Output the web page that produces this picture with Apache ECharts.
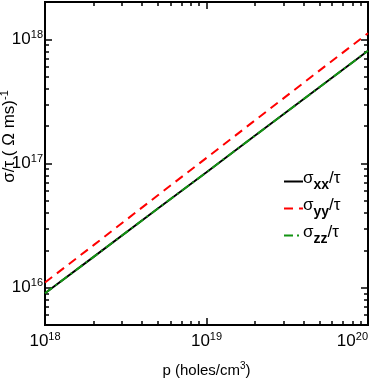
<!DOCTYPE html>
<html>
<head>
<meta charset="utf-8">
<script src="https://cdn.jsdelivr.net/npm/echarts@6/dist/echarts.min.js"></script>
<style>
  html, body { margin: 0; padding: 0; background: #fff; }
  #main { width: 382px; height: 382px; }
</style>
</head>
<body>
<div id="main"></div>
<script>
// hole density p (holes/cm^3)
var holes = [1e18, 2e18, 5e18, 1e19, 2e19, 5e19, 1e20];
// conductivity over relaxation time, (Ohm m s)^-1
var sigmaXX = [9.0e15, 1.77e16, 4.34e16, 8.5e16, 1.68e17, 4.11e17, 8.1e17];
var sigmaYY = [1.1e16, 2.2e16, 5.55e16, 1.11e17, 2.23e17, 5.6e17, 1.12e18];
var sigmaZZ = [9.0e15, 1.77e16, 4.34e16, 8.5e16, 1.68e17, 4.11e17, 8.1e17];
var seriesNames = ['xx', 'yy', 'zz'];

// axis ranges and decade tick exponents
var xRange = [1e18, 1e20];
var yRange = [5e15, 2e18];
var xDecades = [18, 19, 20];
var yDecades = [16, 17, 18];
var minorMult = [1, 2, 3, 4, 5, 6, 7, 8, 9];

var FONT = '"Liberation Sans", Arial, sans-serif';
var lg = Math.log10;

// every log tick (decades included) inside the range
function logTicks(range) {
  var out = [];
  for (var d = Math.floor(lg(range[0])); d <= Math.ceil(lg(range[1])); d++) {
    minorMult.forEach(function (m) {
      var v = lg(m) + d;
      if (v >= lg(range[0]) - 1e-9 && v <= lg(range[1]) + 1e-9) out.push(v);
    });
  }
  return out;
}

function toPoints(xs, ys) {
  return xs.map(function (x, i) { return [lg(x), lg(ys[i])]; });
}

var powRich = {
  b: { fontFamily: FONT, fontSize: 17, color: '#000' },
  e: { fontFamily: FONT, fontSize: 11, color: '#000', padding: [0, 0, 9, 0] }
};
function powLabel(v) {
  return '{b|10}{e|' + Math.round(v) + '}';
}

// grid 0: labels + all log ticks, grid 1 (same rect): longer decade ticks
function makeAxis(dim, range, decades, opts) {
  var base = {
    type: 'value',
    gridIndex: opts.major ? 1 : 0,
    min: lg(range[0]),
    max: lg(range[1]),
    position: opts.position,
    splitLine: { show: false },
    axisLine: { show: true, onZero: false, lineStyle: { color: '#000', width: 2 } },
    axisTick: {
      show: true, inside: true, length: opts.major ? 7 : 4,
      lineStyle: { color: '#000', width: 1.5 },
      customValues: opts.major ? decades : logTicks(range)
    },
    axisLabel: { show: false }
  };
  if (opts.labels) {
    base.axisLabel = {
      show: true,
      customValues: decades,
      formatter: powLabel,
      rich: powRich,
      alignMaxLabel: dim === 'x' ? 'right' : null,
      margin: dim === 'x' ? 6 : 2
    };
  }
  return base;
}

var xAxes = [
  makeAxis('x', xRange, xDecades, { position: 'bottom', labels: true }),
  makeAxis('x', xRange, xDecades, { position: 'top' }),
  makeAxis('x', xRange, xDecades, { position: 'bottom', major: true }),
  makeAxis('x', xRange, xDecades, { position: 'top', major: true })
];
xAxes[0].name = 'p (holes/cm{e|3})';
xAxes[0].nameLocation = 'middle';
xAxes[0].nameGap = 36;
xAxes[0].nameMoveOverlap = false;
xAxes[0].nameTextStyle = {
  fontFamily: FONT, fontSize: 15, color: '#000',
  rich: { e: { fontFamily: FONT, fontSize: 10, color: '#000', padding: [0, 0, 9, 0] } }
};

var yAxes = [
  makeAxis('y', yRange, yDecades, { position: 'left', labels: true }),
  makeAxis('y', yRange, yDecades, { position: 'right' }),
  makeAxis('y', yRange, yDecades, { position: 'left', major: true }),
  makeAxis('y', yRange, yDecades, { position: 'right', major: true })
];
yAxes[0].name = 'σ/τ ( Ω ms){e|-1}';
yAxes[0].nameLocation = 'middle';
yAxes[0].nameGap = 25;
yAxes[0].nameMoveOverlap = false;
yAxes[0].nameTextStyle = {
  fontFamily: FONT, fontSize: 17, color: '#000',
  padding: [0, 0, 0, 54],
  rich: { e: { fontFamily: FONT, fontSize: 11, color: '#000', padding: [0, 0, 10, 0] } }
};

var plotRect = { left: 45, right: 14, top: 2, bottom: 57, containLabel: false, outerBoundsMode: 'none' };

var option = {
  animation: false,
  backgroundColor: '#fff',
  grid: [Object.assign({}, plotRect), Object.assign({}, plotRect)],
  xAxis: xAxes,
  yAxis: yAxes,
  legend: {
    orient: 'vertical',
    left: 278,
    top: 165,
    itemWidth: 19,
    itemHeight: 10,
    itemGap: 5,
    data: seriesNames,
    itemStyle: { opacity: 0 },
    formatter: function (name) {
      return '{s|σ}{sub|' + name + '}{s|/τ}';
    },
    textStyle: {
      color: '#000',
      padding: [0, 0, 0, -5],
      rich: {
        s: { fontFamily: FONT, fontSize: 17, color: '#000', padding: [0, 0, 6, 0] },
        sub: { fontFamily: FONT, fontSize: 14, fontWeight: 'bold', color: '#000', padding: [7, 0, 0, 0] }
      }
    }
  },
  series: [
    {
      name: 'xx', type: 'line', symbol: 'none', z: 2,
      data: toPoints(holes, sigmaXX),
      lineStyle: { color: '#000', width: 2 }, itemStyle: { color: '#000' }
    },
    {
      name: 'yy', type: 'line', symbol: 'none', z: 3,
      data: toPoints(holes, sigmaYY),
      lineStyle: { color: '#ff0000', width: 2, type: [9, 6] }, itemStyle: { color: '#ff0000' }
    },
    {
      // same scales, drawn in the overlaid grid
      name: 'zz', type: 'line', symbol: 'none', z: 4,
      xAxisIndex: 2, yAxisIndex: 2,
      data: toPoints(holes, sigmaZZ),
      lineStyle: { color: '#139413', width: 2, type: [9, 4, 2, 4] }, itemStyle: { color: '#139413' }
    }
  ]
};

var chart = echarts.init(document.getElementById('main'), null, { renderer: 'canvas' });
chart.setOption(option);

// warm the custom tick cache, then render again so the ticks get drawn
['xAxis', 'yAxis'].forEach(function (type) {
  for (var i = 0; i < 4; i++) {
    try {
      chart.getModel().getComponent(type, i).axis.getTicksCoords();
    } catch (e) {}
  }
});
chart.setOption({ backgroundColor: '#fff' });
</script>
</body>
</html>
